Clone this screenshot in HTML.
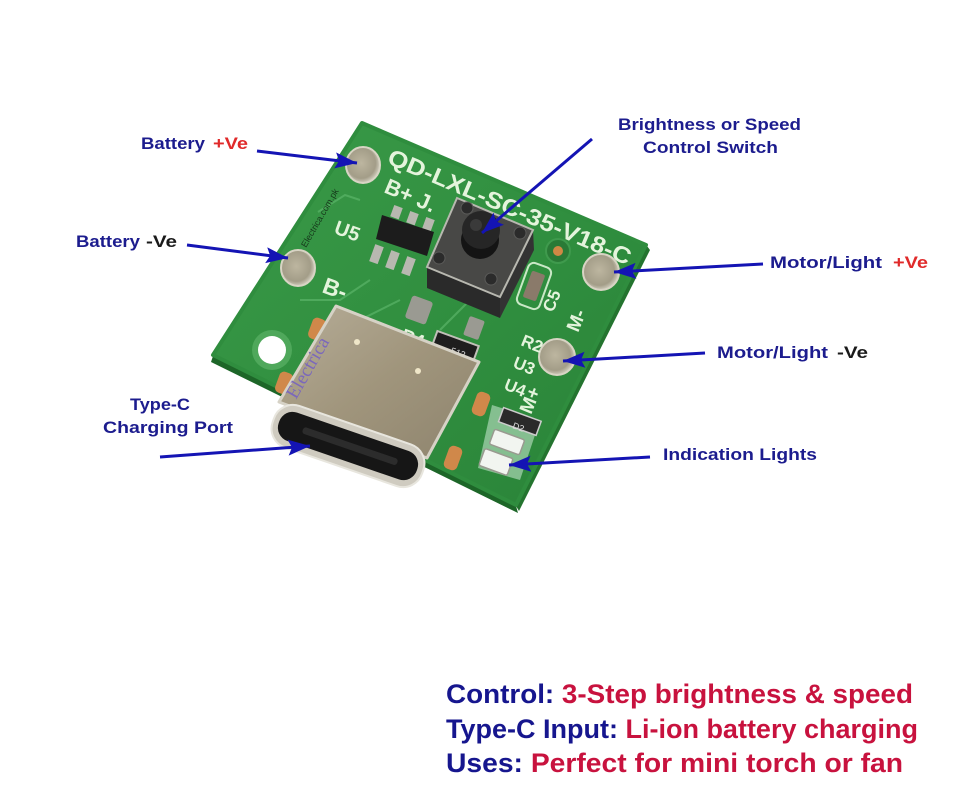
<!DOCTYPE html>
<html><head><meta charset="utf-8"><style>
html,body{margin:0;padding:0;background:#fff;width:960px;height:795px;overflow:hidden}
svg{display:block}
</style></head><body>
<svg width="960" height="795" viewBox="0 0 960 795" xmlns="http://www.w3.org/2000/svg">
<defs>
<linearGradient id="brd" x1="0" y1="0" x2="1" y2="1">
<stop offset="0" stop-color="#3a9a48"/><stop offset="0.6" stop-color="#2f8d3e"/><stop offset="1" stop-color="#2a8238"/>
</linearGradient>
<radialGradient id="pad" cx="0.45" cy="0.45" r="0.6">
<stop offset="0" stop-color="#bdb6a0"/><stop offset="0.7" stop-color="#a39d88"/><stop offset="1" stop-color="#e0ddd0"/>
</radialGradient>
<linearGradient id="conn" x1="0" y1="0" x2="1" y2="1">
<stop offset="0" stop-color="#b6ad98"/><stop offset="0.5" stop-color="#a0957c"/><stop offset="1" stop-color="#8e846e"/>
</linearGradient>
<marker id="ah" markerUnits="userSpaceOnUse" markerWidth="24" markerHeight="18" refX="22" refY="8" orient="auto">
<path d="M0,0 L22,8 L0,16 L4,8 Z" fill="#1414b4"/>
</marker>
</defs>
<rect width="960" height="795" fill="#fff"/>

<!-- board thickness -->
<polygon points="213,356 516,506 518,513 211,362" fill="#1d6628"/>
<polygon points="647,246 516,506 519,511 650,250" fill="#24742f"/>
<!-- board -->
<polygon points="362,123 646,245 516,505 213,355" fill="url(#brd)" stroke="#2f8d3e" stroke-width="4" stroke-linejoin="round"/>

<!-- silk traces -->
<g fill="none" stroke="#56b064" stroke-width="2" opacity="0.8">
<path d="M318,212 L345,195 L360,200"/>
<path d="M300,300 L340,300 L370,280"/>
<path d="M360,320 L400,300"/>
<path d="M440,330 L470,300"/>
</g>

<!-- mounting hole -->
<circle cx="272" cy="350" r="20" fill="#4fa85b"/>
<circle cx="272" cy="350" r="14" fill="#ffffff"/>

<!-- pads -->
<g stroke="#d8d4c4" stroke-width="2">
<ellipse cx="363" cy="165" rx="17" ry="18" fill="url(#pad)"/>
<ellipse cx="298" cy="268" rx="17" ry="18" fill="url(#pad)"/>
<ellipse cx="601" cy="272" rx="18" ry="18" fill="url(#pad)"/>
<ellipse cx="557" cy="357" rx="18" ry="18" fill="url(#pad)"/>
</g>
<circle cx="558" cy="251" r="12" fill="#2a7a36" stroke="#3f9a4d" stroke-width="2"/>
<circle cx="558" cy="251" r="5" fill="#d08845"/>

<!-- board silk text -->
<g fill="#e4f4dc" font-family="'Liberation Sans',sans-serif" font-weight="bold">
<text x="386" y="163" font-size="23" transform="rotate(23 386 163)" textLength="262" lengthAdjust="spacingAndGlyphs">QD-LXL-SC-35-V18-C</text>
<text x="383" y="192" font-size="22" transform="rotate(23 383 192)">B+ J.</text>
<text x="333" y="233" font-size="20" transform="rotate(20 333 233)">U5</text>
<text x="321" y="292" font-size="23" transform="rotate(20 321 292)">B-</text>
<text x="400" y="340" font-size="18" transform="rotate(20 400 340)">R4</text>
<text x="553" y="313" font-size="17" transform="rotate(-68 553 313)">C5</text>
<text x="578" y="333" font-size="19" transform="rotate(-68 578 333)">M-</text>
<text x="520" y="345" font-size="17" transform="rotate(22 520 345)">R2</text>
<text x="512" y="367" font-size="17" transform="rotate(22 512 367)">U3</text>
<text x="503" y="389" font-size="17" transform="rotate(22 503 389)">U4</text>
<text x="531" y="415" font-size="19" transform="rotate(-68 531 415)">M+</text>
</g>
<text x="306" y="248" font-size="9" fill="#173a1c" font-family="'Liberation Sans',sans-serif" transform="rotate(-60 306 248)">Electrica.com.pk</text>

<!-- IC U5 -->
<g fill="#b8b8b0">
<rect x="392" y="206" width="9" height="12" transform="rotate(20 396 212)"/>
<rect x="408" y="212" width="9" height="12" transform="rotate(20 412 218)"/>
<rect x="424" y="218" width="9" height="12" transform="rotate(20 428 224)"/>
<rect x="372" y="245" width="9" height="18" transform="rotate(20 376 254)"/>
<rect x="388" y="251" width="9" height="18" transform="rotate(20 392 260)"/>
<rect x="404" y="257" width="9" height="18" transform="rotate(20 408 266)"/>
</g>
<polygon points="382,215 434,232 427,256 376,239" fill="#1c1c1c"/>

<!-- small smd parts -->
<rect x="408" y="298" width="22" height="24" rx="3" fill="#9a9a92" transform="rotate(20 419 310)"/>
<rect x="466" y="318" width="16" height="20" rx="2" fill="#9a9a92" transform="rotate(20 474 328)"/>
<rect x="433" y="338" width="44" height="18" fill="#1e1e1e" stroke="#c0c0b8" stroke-width="2" transform="rotate(20 455 347)"/>
<text x="450" y="353" font-size="9" fill="#ddd" font-family="'Liberation Sans',sans-serif" transform="rotate(20 450 353)">512</text>

<!-- C5 capacitor -->
<rect x="522" y="264" width="24" height="44" rx="6" fill="none" stroke="#c9e8c6" stroke-width="2" transform="rotate(20 534 286)"/>
<rect x="527" y="272" width="14" height="28" rx="2" fill="#8a7a6a" transform="rotate(20 534 286)"/>

<!-- switch -->
<polygon points="427,267 500,297 500,318 427,288" fill="#2a2a2a"/>
<polygon points="500,297 533,230 534,250 500,318" fill="#333"/>
<polygon points="457,198 533,230 500,297 427,267" fill="#484846" stroke="#b8b8b0" stroke-width="2"/>
<g fill="#2b2b2b" stroke="#5a5a58" stroke-width="1">
<circle cx="467" cy="208" r="6"/><circle cx="520" cy="233" r="6"/>
<circle cx="439" cy="258" r="6"/><circle cx="491" cy="279" r="6"/>
</g>
<circle cx="480" cy="240" r="19" fill="#141414"/>
<circle cx="481" cy="230" r="19" fill="#262626"/>
<circle cx="476" cy="225" r="6" fill="#3a3a3a"/>

<!-- LED area -->
<polygon points="492,405 540,420 520,480 478,468" fill="#bfe3c8" opacity="0.6"/>
<rect x="500" y="414" width="40" height="15" fill="#2a2a2a" stroke="#ccc" stroke-width="1.5" transform="rotate(20 520 421)"/>
<text x="512" y="428" font-size="9" fill="#ddd" font-family="'Liberation Sans',sans-serif" transform="rotate(20 512 428)">D2</text>
<rect x="491" y="434" width="32" height="16" rx="2" fill="#f2f5f0" stroke="#9a9a90" stroke-width="1.5" transform="rotate(20 507 442)"/>
<rect x="481" y="453" width="30" height="18" rx="2" fill="#f2f5f0" stroke="#9a9a90" stroke-width="1.5" transform="rotate(20 496 462)"/>

<!-- orange pads -->
<g fill="#d0884a">
<rect x="310" y="318" width="14" height="22" rx="5" transform="rotate(20 317 329)"/>
<rect x="277" y="372" width="14" height="22" rx="5" transform="rotate(20 284 383)"/>
<rect x="474" y="392" width="14" height="24" rx="5" transform="rotate(20 481 404)"/>
<rect x="446" y="446" width="14" height="24" rx="5" transform="rotate(20 453 458)"/>
</g>

<!-- Type-C connector -->
<polygon points="336,306 479,362 427,458 279,402" fill="url(#conn)" stroke="#d6d2c6" stroke-width="3" stroke-linejoin="round"/>
<circle cx="357" cy="342" r="3" fill="#efe6c8"/>
<circle cx="418" cy="371" r="3" fill="#efe6c8"/>
<g transform="rotate(19 348 446)">
<rect x="269" y="424" width="158" height="44" rx="20" fill="#cfcbc0" stroke="#e8e6de" stroke-width="2"/>
<rect x="275" y="431" width="146" height="30" rx="14" fill="#161616"/>
<rect x="300" y="442" width="100" height="7" rx="3" fill="#2c2c2c"/>
</g>
<text x="296" y="400" font-size="19" fill="#7b68bb" font-family="'Liberation Serif',serif" transform="rotate(-60 296 400)">Electrica</text>

<!-- arrows -->
<g stroke="#1414b4" stroke-width="3" fill="none" marker-end="url(#ah)">
<line x1="257" y1="151" x2="357" y2="163"/>
<line x1="187" y1="245" x2="288" y2="258"/>
<line x1="592" y1="139" x2="482" y2="233"/>
<line x1="763" y1="264" x2="614" y2="272"/>
<line x1="705" y1="353" x2="563" y2="361"/>
<line x1="160" y1="457" x2="310" y2="446"/>
<line x1="650" y1="457" x2="509" y2="465"/>
</g>

<!-- labels -->
<g font-family="'Liberation Sans',sans-serif" font-weight="bold">
<text x="141" y="149" font-size="17" fill="#1c1c8e" textLength="64" lengthAdjust="spacingAndGlyphs">Battery</text>
<text x="213" y="149" font-size="17" fill="#e02a2a" textLength="35" lengthAdjust="spacingAndGlyphs">+Ve</text>
<text x="76" y="247" font-size="17" fill="#1c1c8e" textLength="64" lengthAdjust="spacingAndGlyphs">Battery</text>
<text x="146" y="247" font-size="17" fill="#1a1a1a" textLength="31" lengthAdjust="spacingAndGlyphs">-Ve</text>
<text x="618" y="130" font-size="17" fill="#1c1c8e" textLength="183" lengthAdjust="spacingAndGlyphs">Brightness or Speed</text>
<text x="643" y="153" font-size="17" fill="#1c1c8e" textLength="135" lengthAdjust="spacingAndGlyphs">Control Switch</text>
<text x="770" y="268" font-size="17" fill="#1c1c8e" textLength="112" lengthAdjust="spacingAndGlyphs">Motor/Light</text>
<text x="893" y="268" font-size="17" fill="#e02a2a" textLength="35" lengthAdjust="spacingAndGlyphs">+Ve</text>
<text x="717" y="358" font-size="17" fill="#1c1c8e" textLength="111" lengthAdjust="spacingAndGlyphs">Motor/Light</text>
<text x="837" y="358" font-size="17" fill="#1a1a1a" textLength="31" lengthAdjust="spacingAndGlyphs">-Ve</text>
<text x="130" y="410" font-size="17" fill="#1c1c8e" textLength="60" lengthAdjust="spacingAndGlyphs">Type-C</text>
<text x="103" y="433" font-size="17" fill="#1c1c8e" textLength="130" lengthAdjust="spacingAndGlyphs">Charging Port</text>
<text x="663" y="460" font-size="17" fill="#1c1c8e" textLength="154" lengthAdjust="spacingAndGlyphs">Indication Lights</text>
</g>

<!-- bottom text -->
<g font-family="'Liberation Sans',sans-serif" font-weight="bold" font-size="27">
<text x="446" y="703" textLength="467" lengthAdjust="spacingAndGlyphs"><tspan fill="#16168e">Control: </tspan><tspan fill="#c8123e">3-Step brightness &amp; speed</tspan></text>
<text x="446" y="738" textLength="472" lengthAdjust="spacingAndGlyphs"><tspan fill="#16168e">Type-C Input: </tspan><tspan fill="#c8123e">Li-ion battery charging</tspan></text>
<text x="446" y="772" textLength="457" lengthAdjust="spacingAndGlyphs"><tspan fill="#16168e">Uses: </tspan><tspan fill="#c8123e">Perfect for mini torch or fan</tspan></text>
</g>
</svg>
</body></html>
